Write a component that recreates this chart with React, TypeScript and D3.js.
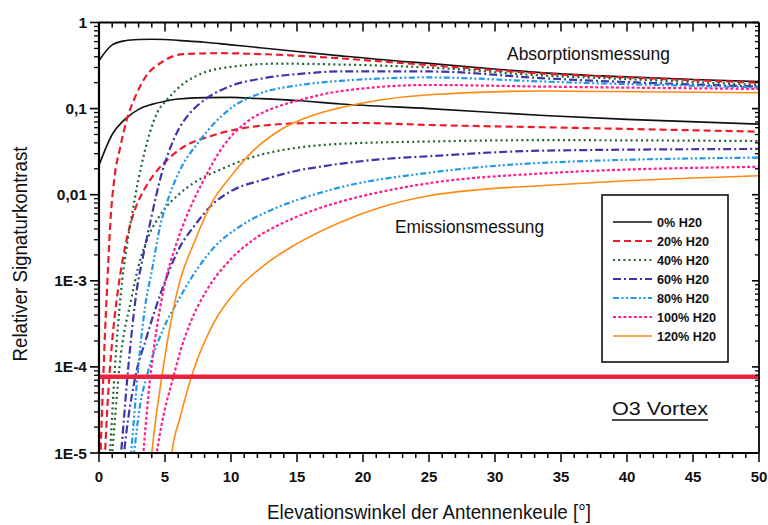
import React from "react";
import * as d3 from "d3";

type P = [number, number];

// ---- data (x = elevation angle in degrees, value = relative signature contrast)
const absH0: P[] = [[0,0.36],[1,0.55],[2,0.615],[3,0.635],[4,0.64],[5,0.635],[6,0.62],[8,0.59],[10,0.55],[12.2,0.51],[15,0.46],[18.3,0.41],[22.8,0.355],[25,0.335],[30.4,0.285],[33.7,0.26],[38,0.24],[45,0.218],[50,0.206]];
const emH0: P[] = [[0,0.022],[1,0.05],[2,0.076],[3,0.098],[4,0.112],[5,0.122],[6,0.129],[8,0.134],[10,0.135],[12,0.131],[15,0.124],[18.3,0.113],[25,0.1],[33.7,0.083],[40,0.075],[50,0.066]];

const absH20: P[] = [[0,2.5e-6],[0.12,1e-5],[0.3,6e-5],[0.45,2.4e-4],[0.58,6.5e-4],[0.7,0.0016],[0.85,0.0045],[1.2,0.017],[1.6,0.035],[2.1,0.074],[2.7,0.132],[3.5,0.23],[4.8,0.35],[6.4,0.43],[9.2,0.44],[12.2,0.43],[17.5,0.39],[25,0.32],[33.7,0.255],[40,0.23],[50,0.2]];
const emH20: P[] = [[0.3,2.5e-6],[0.46,1e-5],[0.7,5e-5],[1.0,2e-4],[1.4,7.1e-4],[1.8,0.00178],[2.2,0.00355],[2.73,0.00676],[3.5,0.012],[4.25,0.0178],[5.5,0.0282],[6.15,0.0339],[8.67,0.049],[12.2,0.063],[16.2,0.068],[20,0.068],[25,0.0645],[33.7,0.0607],[50,0.054]];

const absH40: P[] = [[0.5,2e-6],[0.83,1e-5],[1.21,1e-4],[1.65,7e-4],[2.1,0.0025],[2.48,0.0056],[2.98,0.0148],[3.49,0.033],[3.87,0.0537],[4.4,0.089],[5.14,0.126],[6.5,0.2],[7.66,0.251],[9.94,0.305],[13.7,0.333],[18.3,0.325],[25,0.3],[33.7,0.242],[40,0.22],[50,0.188]];
const emH40: P[] = [[0.6,2e-6],[1.0,1e-5],[1.55,1e-4],[2.48,6.5e-4],[2.98,0.00146],[3.74,0.00325],[4.76,0.0062],[6.15,0.0104],[7.15,0.0136],[9.43,0.0203],[11.2,0.026],[13,0.031],[15.25,0.0355],[18.3,0.039],[25,0.0415],[33.7,0.043],[50,0.042]];

const absH60: P[] = [[1.2,2e-6],[1.67,1e-5],[2.22,1e-4],[2.86,7.8e-4],[3.3,0.0018],[3.87,0.0047],[4.76,0.0178],[5.64,0.043],[6.15,0.062],[6.9,0.089],[8.17,0.132],[9.94,0.182],[12.5,0.226],[16.2,0.26],[18,0.27],[25,0.27],[33.7,0.225],[50,0.18]];
const emH60: P[] = [[1.5,2e-6],[1.9,1e-5],[2.7,7e-5],[3.6,2.2e-4],[4.76,7.8e-4],[6.15,0.0025],[7.15,0.0042],[8.67,0.0079],[10,0.011],[12.5,0.015],[15,0.019],[17.5,0.022],[21,0.0255],[25,0.028],[33.7,0.0325],[50,0.034]];

const absH80: P[] = [[2.0,2e-6],[2.43,1e-5],[2.98,1e-4],[3.49,5e-4],[4.0,0.0013],[4.63,0.0043],[5.3,0.0095],[6.02,0.0178],[7.66,0.043],[9.94,0.1],[12.2,0.15],[15.25,0.188],[18.3,0.21],[25,0.23],[33.7,0.206],[50,0.176]];
const emH80: P[] = [[2.2,2e-6],[2.66,1e-5],[3.1,3.5e-5],[3.64,8e-5],[4.8,2.6e-4],[6.15,6.5e-4],[7.41,0.00135],[8.67,0.0024],[10.7,0.0043],[13.2,0.0068],[15.8,0.0095],[18.3,0.0122],[25,0.018],[33.7,0.0235],[50,0.027]];

const absH100: P[] = [[3.0,2e-6],[3.36,1e-5],[3.9,8e-5],[4.4,3e-4],[4.9,8e-4],[5.9,0.0028],[6.5,0.005],[7.15,0.0085],[7.9,0.0145],[9.43,0.037],[11.2,0.07],[13.5,0.105],[15.25,0.126],[18,0.157],[25,0.188],[33.7,0.18],[50,0.169]];
const emH100: P[] = [[4.0,3e-6],[4.38,1e-5],[4.76,2.2e-5],[5.64,7.7e-5],[6.15,1.5e-4],[6.9,3.2e-4],[8.17,7.8e-4],[9.69,0.0016],[11.7,0.003],[14.2,0.0049],[16.26,0.0066],[18.3,0.0083],[21,0.0105],[25,0.0136],[33.7,0.0177],[50,0.0211]];

const absH120: P[] = [[3.6,2e-6],[4.0,1e-5],[4.76,7.7e-5],[5.95,7.8e-4],[7.3,0.003],[8.67,0.0087],[9.94,0.016],[11.46,0.03],[13.7,0.056],[16.26,0.084],[18,0.1],[21.3,0.126],[25,0.145],[33.7,0.16],[50,0.153]];
const emH120: P[] = [[5.1,2e-6],[5.52,1e-5],[6.15,2.6e-5],[7.15,9e-5],[8.67,3.2e-4],[10.45,7.8e-4],[12.47,0.0015],[15,0.0027],[18.3,0.0048],[21.3,0.0071],[25.1,0.0098],[29,0.0115],[33.7,0.0128],[40,0.0145],[50,0.0166]];

const seriesLabels = ["0% H20", "20% H20", "40% H20", "60% H20", "80% H20", "100% H20", "120% H20"];
const o3Level = 7.7e-5;
const xTickValues = [0, 5, 10, 15, 20, 25, 30, 35, 40, 45, 50];
const yTickValues = [1, 0.1, 0.01, 1e-3, 1e-4, 1e-5];
const yTickLabels = ["1", "0,1", "0,01", "1E-3", "1E-4", "1E-5"];

// ---- styling
const styles = [
  { color: "#111111", dash: "none", w: 1.6 },
  { color: "#ee1c2b", dash: "7,4", w: 2.2 },
  { color: "#1d6630", dash: "2,3.2", w: 2.2 },
  { color: "#3d36a8", dash: "8,3,2,3", w: 2.2 },
  { color: "#2298e6", dash: "6,2.5,2,2.5,2,2.5", w: 2.2 },
  { color: "#ff1e8e", dash: "3,2.2", w: 2.2 },
  { color: "#ff8a12", dash: "none", w: 1.6 },
];

const absSeries = [absH0, absH20, absH40, absH60, absH80, absH100, absH120];
const emSeries = [emH0, emH20, emH40, emH60, emH80, emH100, emH120];

const L = 99, R = 759, T = 22.5, B = 453;
const FONT = "'Liberation Sans', Arial, 'DejaVu Sans', sans-serif";

export default function App() {
  const x = d3.scaleLinear().domain([0, 50]).range([L, R]);
  const y = d3.scaleLog().domain([1e-5, 1]).range([B, T]);
  const line = d3
    .line<P>()
    .x((d) => x(d[0]))
    .y((d) => y(d[1]))
    .curve(d3.curveMonotoneX);

  const minorX = d3.range(0, 51, 1);
  const minorY: number[] = [];
  for (let e = -5; e < 0; e++) {
    for (let k = 2; k <= 9; k++) minorY.push(k * Math.pow(10, e));
  }

  const legendX0 = 613, legendX1 = 652, legendY0 = 222, legendDy = 19;

  return (
    <svg
      width={768}
      height={525}
      style={{ position: "absolute", left: 0, top: 0, background: "#fff" }}
      fontFamily={FONT}
    >
      <rect x={0} y={0} width={768} height={525} fill="#fff" />
      <defs>
        <clipPath id="plotClip">
          <rect x={L} y={T} width={R - L} height={B - T} />
        </clipPath>
      </defs>

      <g clipPath="url(#plotClip)">
        {emSeries.map((s, i) => (
          <path key={"em" + i} d={line(s) || ""} fill="none" stroke={styles[i].color}
            strokeWidth={styles[i].w} strokeDasharray={styles[i].dash} />
        ))}
        {absSeries.map((s, i) => (
          <path key={"ab" + i} d={line(s) || ""} fill="none" stroke={styles[i].color}
            strokeWidth={styles[i].w} strokeDasharray={styles[i].dash} />
        ))}
        <line x1={x(0)} x2={x(50)} y1={y(o3Level)} y2={y(o3Level)} stroke="#ec2340" strokeWidth={4.5} />
      </g>

      {/* frame */}
      <line x1={L} x2={L} y1={T} y2={B} stroke="#000" strokeWidth={2.2} />
      <line x1={L} x2={R} y1={B} y2={B} stroke="#000" strokeWidth={2.2} />
      <line x1={L} x2={R} y1={T} y2={T} stroke="#000" strokeWidth={1.8} />
      <line x1={R} x2={R} y1={T} y2={B} stroke="#000" strokeWidth={1.8} />

      {/* x ticks bottom (outward) and top (inward) */}
      {minorX.map((v) => {
        const major = v % 5 === 0;
        return (
          <g key={"xt" + v}>
            <line x1={x(v)} x2={x(v)} y1={B} y2={B + (major ? 9 : 5)} stroke="#000" strokeWidth={1.5} />
            <line x1={x(v)} x2={x(v)} y1={T} y2={T + (major ? 9 : 5)} stroke="#000" strokeWidth={1.5} />
          </g>
        );
      })}
      {xTickValues.map((v) => (
        <text key={"xl" + v} x={x(v)} y={482} textAnchor="middle" fontSize={15} fontWeight="bold" fill="#111">
          {v}
        </text>
      ))}

      {/* y ticks */}
      {yTickValues.map((v) => (
        <g key={"yt" + v}>
          <line x1={L - 9} x2={L} y1={y(v)} y2={y(v)} stroke="#000" strokeWidth={1.6} />
          <line x1={R - 7} x2={R} y1={y(v)} y2={y(v)} stroke="#000" strokeWidth={1.6} />
        </g>
      ))}
      {minorY.map((v) => (
        <g key={"ym" + v}>
          <line x1={L - 5} x2={L} y1={y(v)} y2={y(v)} stroke="#000" strokeWidth={1.3} />
          <line x1={R - 4} x2={R} y1={y(v)} y2={y(v)} stroke="#000" strokeWidth={1.3} />
        </g>
      ))}
      {yTickValues.map((v, i) => (
        <text key={"yl" + v} x={87} y={y(v) + 5.5} textAnchor="end" fontSize={15.5} fontWeight="bold" fill="#111">
          {yTickLabels[i]}
        </text>
      ))}

      {/* axis titles */}
      <text x={429} y={519} textAnchor="middle" fontSize={20} fill="#111" textLength={324} lengthAdjust="spacingAndGlyphs">
        Elevationswinkel der Antennenkeule [°]
      </text>
      <text transform="translate(27,254) rotate(-90)" textAnchor="middle" fontSize={20} fill="#111"
        textLength={215} lengthAdjust="spacingAndGlyphs">
        Relativer Signaturkontrast
      </text>

      {/* annotations */}
      <text x={507} y={60} fontSize={19} fill="#111" textLength={163} lengthAdjust="spacingAndGlyphs">
        Absorptionsmessung
      </text>
      <text x={395} y={233} fontSize={19} fill="#111" textLength={149} lengthAdjust="spacingAndGlyphs">
        Emissionsmessung
      </text>
      <text x={612} y={415} fontSize={19} fill="#111" textLength={96} lengthAdjust="spacingAndGlyphs">
        O3 Vortex
      </text>
      <line x1={612} x2={708} y1={420} y2={420} stroke="#111" strokeWidth={1.4} />

      {/* legend */}
      <rect x={602} y={195} width={126} height={167} fill="#fff" stroke="#111" strokeWidth={1.6} />
      {seriesLabels.map((lab, i) => {
        const yy = legendY0 + i * legendDy;
        return (
          <g key={"lg" + i}>
            <line x1={legendX0} x2={legendX1} y1={yy} y2={yy} stroke={styles[i].color}
              strokeWidth={styles[i].w} strokeDasharray={styles[i].dash} />
            <text x={657} y={yy + 5} fontSize={13.5} fontWeight="bold" fill="#111"
              textLength={i === 0 ? 45 : i === 5 || i === 6 ? 59 : 52} lengthAdjust="spacingAndGlyphs">
              {lab}
            </text>
          </g>
        );
      })}
    </svg>
  );
}
